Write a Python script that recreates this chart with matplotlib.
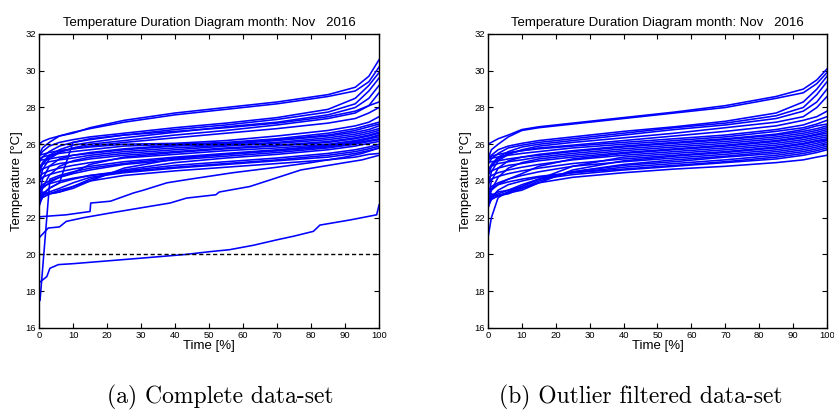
import numpy as np
import matplotlib
matplotlib.use('Agg')
import matplotlib.pyplot as plt

# percent-of-time knots shared by the main sensor curves
time_pct = [0, 1, 3, 6, 10, 15, 25, 40, 55, 70, 85, 93, 97, 100]

# complete data-set: sorted temperatures per sensor (deg C)
complete_curves = [
    [26.0, 26.15, 26.3, 26.45, 26.6, 26.9, 27.3, 27.7, 28.0, 28.3, 28.7, 29.1, 29.7, 30.6],
    [25.4, 25.8, 26.1, 26.45, 26.65, 26.85, 27.2, 27.6, 27.9, 28.2, 28.6, 28.9, 29.4, 30.2],
    [25.3, 25.6, 25.9, 26.1, 26.25, 26.4, 26.6, 26.9, 27.15, 27.45, 27.9, 28.5, 29.2, 29.9],
    [25.0, 25.3, 25.6, 25.9, 26.1, 26.25, 26.5, 26.8, 27.05, 27.35, 27.75, 28.2, 28.9, 29.6],
    [24.6, 25.0, 25.4, 25.7, 25.95, 26.1, 26.35, 26.65, 26.95, 27.2, 27.6, 28.0, 28.5, 29.2],
    [23.8, 24.6, 25.2, 25.55, 25.8, 26.0, 26.2, 26.5, 26.75, 27.05, 27.4, 27.7, 28.1, 28.8],
    [24.3, 24.9, 25.3, 25.6, 25.75, 25.9, 26.1, 26.35, 26.6, 26.85, 27.15, 27.4, 27.7, 28.0],
    [25.4, 25.45, 25.55, 25.65, 25.75, 25.85, 26.0, 26.05, 26.2, 26.45, 26.75, 27.0, 27.2, 27.5],
    [25.2, 25.3, 25.4, 25.5, 25.6, 25.7, 25.9, 26.0, 26.1, 26.3, 26.6, 26.85, 27.05, 27.2],
    [23.1, 24.1, 24.8, 25.2, 25.4, 25.55, 25.75, 25.95, 26.05, 26.25, 26.5, 26.75, 26.95, 27.1],
    [25.1, 25.15, 25.2, 25.3, 25.4, 25.5, 25.7, 25.9, 26.0, 26.2, 26.45, 26.65, 26.8, 27.0],
    [24.8, 24.9, 25.05, 25.15, 25.25, 25.4, 25.6, 25.8, 25.95, 26.1, 26.35, 26.55, 26.7, 26.85],
    [22.9, 23.6, 24.3, 24.8, 25.1, 25.3, 25.5, 25.7, 25.9, 26.05, 26.25, 26.45, 26.6, 26.75],
    [24.5, 24.65, 24.8, 24.95, 25.05, 25.2, 25.4, 25.6, 25.8, 25.95, 26.15, 26.35, 26.5, 26.65],
    [23.4, 23.6, 23.9, 24.2, 24.45, 24.9, 25.3, 25.55, 25.75, 25.9, 26.1, 26.3, 26.45, 26.6],
    [24.2, 24.4, 24.55, 24.7, 24.85, 25.0, 25.25, 25.45, 25.65, 25.8, 26.0, 26.2, 26.35, 26.5],
    [23.0, 23.3, 23.6, 23.9, 26.1, 26.3, 26.5, 26.7, 26.9, 27.15, 27.5, 27.8, 28.1, 28.3],
    [24.0, 24.2, 24.35, 24.5, 24.65, 24.8, 25.05, 25.3, 25.5, 25.7, 25.95, 26.15, 26.3, 26.4],
    [22.7, 23.1, 23.3, 23.4, 23.6, 24.0, 24.7, 25.2, 25.45, 25.65, 25.85, 26.05, 26.2, 26.3],
    [23.6, 23.8, 24.0, 24.2, 24.4, 24.6, 24.9, 25.15, 25.35, 25.55, 25.8, 26.0, 26.15, 26.25],
    [23.3, 23.4, 23.3, 23.4, 23.7, 24.1, 24.6, 25.0, 25.25, 25.45, 25.7, 25.9, 26.05, 26.15],
    [22.6, 23.2, 23.6, 23.9, 24.1, 24.3, 24.55, 24.85, 25.05, 25.25, 25.5, 25.7, 25.85, 26.0],
    [23.5, 23.7, 23.85, 24.0, 24.15, 24.3, 24.5, 24.75, 24.95, 25.15, 25.4, 25.6, 25.75, 25.9],
    [23.0, 23.2, 23.4, 23.6, 23.9, 24.2, 24.45, 24.7, 24.9, 25.1, 25.3, 25.5, 25.65, 25.8],
    [22.8, 23.1, 23.3, 23.5, 23.7, 24.0, 24.3, 24.55, 24.75, 24.95, 25.15, 25.3, 25.45, 25.5],
]

# outlier sensors only present in the complete data-set
outlier_a_x = [0, 8, 15, 15.2, 21, 27.8, 30.7, 37.6, 43, 57, 70, 80, 90, 95, 100]
outlier_a_t = [22.05, 22.16, 22.34, 22.8, 22.9, 23.35, 23.5, 23.9, 24.06, 24.45, 24.75, 25.0, 25.3, 25.5, 25.8]
outlier_b_x = [0, 2.7, 6, 8, 13, 21, 29.7, 38.5, 43.4, 52, 53, 62, 68, 77, 90, 95, 100]
outlier_b_t = [20.9, 21.44, 21.5, 21.8, 22.0, 22.26, 22.53, 22.8, 23.07, 23.25, 23.4, 23.7, 24.06, 24.6, 25.0, 25.15, 25.4]
outlier_c_x = [0, 0.3, 2.3, 3.2, 5.7, 10, 20, 30, 43, 50, 56, 63, 70, 75, 80.7, 82.6, 91.5, 99.3, 100]
outlier_c_t = [18.5, 18.5, 18.8, 19.25, 19.45, 19.5, 19.65, 19.8, 20.0, 20.15, 20.26, 20.5, 20.8, 21.0, 21.26, 21.6, 21.88, 22.16, 22.7]
outlier_d_x = [0, 0.3, 3.2, 6, 10, 15, 25, 40, 55, 70, 85, 93, 97, 100]
outlier_d_t = [17.5, 17.5, 24.1, 24.3, 24.5, 24.7, 24.95, 25.25, 25.45, 25.65, 25.9, 26.1, 26.3, 26.5]

# outlier filtered data-set
filtered_curves = [
    [26.0, 26.1, 26.3, 26.5, 26.8, 26.95, 27.15, 27.45, 27.75, 28.1, 28.6, 29.0, 29.5, 30.1],
    [25.2, 25.7, 26.0, 26.4, 26.75, 26.9, 27.1, 27.4, 27.7, 28.0, 28.5, 28.8, 29.3, 29.9],
    [25.1, 25.4, 25.7, 25.9, 26.05, 26.2, 26.4, 26.7, 26.95, 27.25, 27.7, 28.3, 29.0, 29.7],
    [24.9, 25.2, 25.5, 25.8, 25.95, 26.1, 26.3, 26.6, 26.9, 27.15, 27.55, 28.0, 28.7, 29.4],
    [24.5, 24.9, 25.3, 25.6, 25.85, 26.0, 26.2, 26.5, 26.8, 27.05, 27.4, 27.8, 28.3, 29.0],
    [23.6, 24.5, 25.1, 25.45, 25.7, 25.9, 26.1, 26.35, 26.6, 26.9, 27.2, 27.5, 28.0, 28.6],
    [24.2, 24.8, 25.2, 25.5, 25.65, 25.8, 25.95, 26.2, 26.45, 26.7, 27.0, 27.3, 27.5, 27.8],
    [25.3, 25.35, 25.45, 25.55, 25.65, 25.75, 25.9, 26.1, 26.3, 26.5, 26.8, 27.05, 27.3, 27.5],
    [25.2, 25.25, 25.3, 25.4, 25.5, 25.6, 25.8, 26.0, 26.2, 26.4, 26.7, 26.9, 27.1, 27.3],
    [23.0, 24.0, 24.7, 25.1, 25.3, 25.45, 25.65, 25.9, 26.1, 26.3, 26.55, 26.8, 27.0, 27.1],
    [25.0, 25.05, 25.1, 25.2, 25.3, 25.4, 25.6, 25.85, 26.05, 26.25, 26.5, 26.7, 26.85, 27.0],
    [24.7, 24.8, 24.95, 25.05, 25.15, 25.3, 25.5, 25.75, 25.95, 26.15, 26.4, 26.6, 26.75, 26.9],
    [22.8, 23.5, 24.2, 24.7, 25.0, 25.2, 25.4, 25.65, 25.85, 26.05, 26.3, 26.5, 26.65, 26.8],
    [24.4, 24.55, 24.7, 24.85, 24.95, 25.1, 25.3, 25.55, 25.75, 25.95, 26.2, 26.4, 26.55, 26.7],
    [23.3, 23.5, 23.8, 24.1, 24.4, 24.8, 25.2, 25.5, 25.7, 25.9, 26.15, 26.35, 26.5, 26.6],
    [24.1, 24.3, 24.45, 24.6, 24.75, 24.9, 25.15, 25.4, 25.6, 25.8, 26.05, 26.25, 26.4, 26.5],
    [23.0, 23.2, 23.4, 23.5, 23.7, 24.1, 24.8, 25.3, 25.5, 25.7, 25.95, 26.15, 26.3, 26.4],
    [23.9, 24.1, 24.25, 24.4, 24.55, 24.7, 24.95, 25.2, 25.4, 25.6, 25.85, 26.05, 26.2, 26.3],
    [22.6, 23.0, 23.2, 23.35, 23.5, 23.9, 24.6, 25.1, 25.35, 25.55, 25.8, 26.0, 26.15, 26.25],
    [23.5, 23.7, 23.9, 24.1, 24.3, 24.5, 24.8, 25.05, 25.25, 25.45, 25.7, 25.9, 26.05, 26.2],
    [23.2, 23.3, 23.2, 23.3, 23.6, 24.0, 24.5, 24.9, 25.15, 25.35, 25.6, 25.8, 25.95, 26.1],
    [20.9, 22.0, 23.1, 23.4, 23.7, 24.1, 24.5, 24.85, 25.05, 25.3, 25.5, 25.7, 25.85, 26.0],
    [22.5, 23.1, 23.5, 23.8, 24.0, 24.2, 24.45, 24.75, 24.95, 25.15, 25.4, 25.6, 25.75, 25.9],
    [23.4, 23.6, 23.8, 23.95, 24.1, 24.25, 24.45, 24.65, 24.85, 25.05, 25.3, 25.5, 25.65, 25.8],
    [22.9, 23.1, 23.3, 23.5, 23.8, 24.1, 24.35, 24.6, 24.8, 25.0, 25.2, 25.4, 25.55, 25.7],
    [22.7, 23.0, 23.2, 23.4, 23.6, 23.9, 24.2, 24.45, 24.65, 24.8, 25.0, 25.15, 25.3, 25.4],
]

comfort_limits = [20, 26]
title_text = 'Temperature Duration Diagram month: Nov   2016'
captions = ['(a) Complete data-set', '(b) Outlier filtered data-set']

plt.rcParams['font.family'] = ['Liberation Sans', 'DejaVu Sans']

fig = plt.figure(figsize=(8.34, 4.12), dpi=100)
ax_a = fig.add_axes([0.0468, 0.2039, 0.4077, 0.7136])
ax_b = fig.add_axes([0.5851, 0.2039, 0.4065, 0.7136])

for c in complete_curves:
    ax_a.plot(time_pct, c, color='#0000ff', lw=1.15)
for xs, ts in [(outlier_a_x, outlier_a_t), (outlier_b_x, outlier_b_t),
               (outlier_c_x, outlier_c_t), (outlier_d_x, outlier_d_t)]:
    ax_a.plot(xs, ts, color='#0000ff', lw=1.15)
for lim in comfort_limits:
    ax_a.plot([0, 100], [lim, lim], color='black', lw=1.0, ls=(0, (3, 2)), zorder=5)

for c in filtered_curves:
    ax_b.plot(time_pct, c, color='#0000ff', lw=1.15)

for ax in [ax_a, ax_b]:
    ax.set_xlim(0, 100)
    ax.set_ylim(16, 32)
    ax.set_xticks(np.arange(0, 101, 10))
    ax.set_yticks(np.arange(16, 33, 2))
    ax.tick_params(direction='in', top=True, right=True, length=3.5, width=0.8,
                   labelsize=6.8, pad=2)
    for s in ax.spines.values():
        s.set_linewidth(1.0)
    ax.set_title(title_text, fontsize=9.5, pad=6)
    ax.set_xlabel('Time [%]', fontsize=9.5, labelpad=0)
    ax.set_ylabel('Temperature [°C]', fontsize=9.5, labelpad=2)

fig.text(220 / 834, 1 - 397 / 412, captions[0], family='cmr10', fontsize=17,
         ha='center', va='center')
fig.text(641 / 834, 1 - 397 / 412, captions[1], family='cmr10', fontsize=17,
         ha='center', va='center')

fig.savefig('out.png', dpi=100)
